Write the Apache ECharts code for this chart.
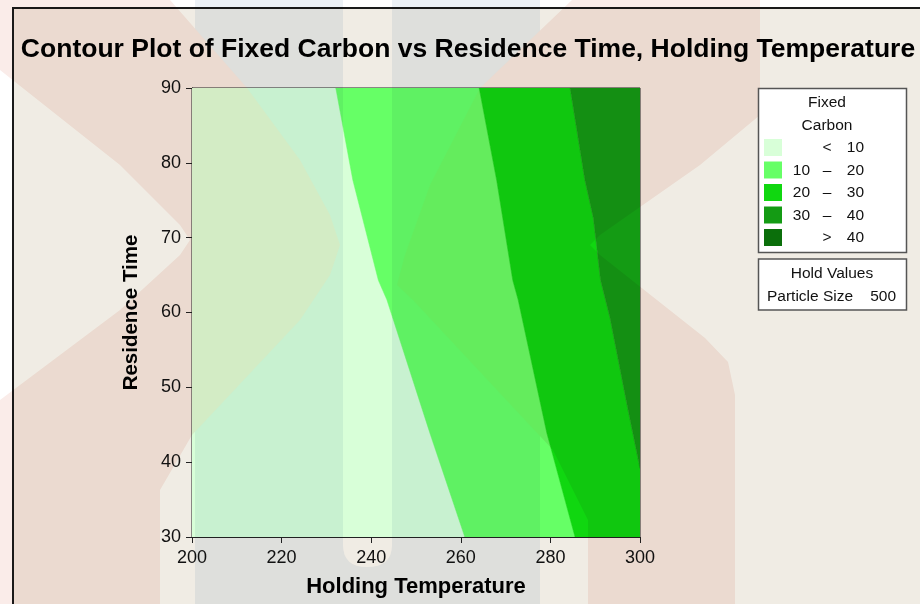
<!DOCTYPE html>
<html>
<head>
<meta charset="utf-8">
<script src="https://cdn.jsdelivr.net/npm/echarts@6/dist/echarts.min.js"></script>
<style>
  html, body { margin: 0; padding: 0; background: #ffffff; }
  #chart { width: 920px; height: 604px; }
</style>
</head>
<body>
<div id="chart"></div>
<script>
// Contour lines of Fixed Carbon: [Holding Temperature, Residence Time] from top to bottom
const contour10 = [[232.1, 90], [235.9, 77.7], [241.6, 64.3], [243.5, 61.7], [253.1, 43.9], [260.9, 30]];
const contour20 = [[264.1, 90], [268.0, 77.7], [271.6, 64.3], [272.8, 61.7], [279.2, 43.9], [285.5, 30]];
const contour30 = [[284.4, 90], [287.7, 77.7], [289.6, 72.6], [291.2, 64.3], [293.3, 59.3], [297.0, 48.0], [300, 39.2]];

// Axis ranges and ticks
const tempRange = [200, 300];
const tempStep = 20;
const timeRange = [30, 90];
const timeStep = 10;

// Legend classes
const levelLow = ['', '10', '20', '30', ''];
const levelSym = ['<', '\u2013', '\u2013', '\u2013', '>'];
const levelHigh = ['10', '20', '30', '40', '40'];
const levelColors = ['#d8ffd8', '#66ff66', '#10d710', '#149b14', '#0b6f0b'];

// Hold values
const holdName = 'Particle Size';
const holdValue = '500';

// Filled bands between successive contour lines
const [tMin, tMax] = tempRange;
const [yMin, yMax] = timeRange;
const bands = [
  [[tMin, yMin], [tMin, yMax]].concat(contour10),
  contour10.concat(contour20.slice().reverse()),
  contour20.concat([[tMax, yMin]], contour30.slice().reverse()),
  contour30.concat([[tMax, yMax]])
];

const FONT = "'Liberation Sans', Arial, sans-serif";

// Faint logo printed behind the slide (multiplied over everything)
function logoCanvas() {
  const c = document.createElement('canvas');
  c.width = 920; c.height = 604;
  const g = c.getContext('2d');
  const poly = (pts) => {
    g.beginPath();
    g.moveTo(pts[0][0], pts[0][1]);
    for (let i = 1; i < pts.length; i++) g.lineTo(pts[i][0], pts[i][1]);
    g.closePath();
    g.fill();
  };
  // vertical bar with a slot
  g.fillStyle = 'rgb(236,241,246)';
  g.fillRect(195, 0, 345, 604);
  g.fillStyle = '#ffffff';
  g.beginPath();
  g.moveTo(343, 0); g.lineTo(343, 545);
  g.quadraticCurveTo(343, 567, 367, 567);
  g.quadraticCurveTo(392, 567, 392, 545);
  g.lineTo(392, 0); g.closePath(); g.fill();
  // chevron strands
  g.fillStyle = 'rgb(250,236,233)';
  poly([[0, 0], [170, 0], [247, 88], [300, 160], [330, 215], [340, 245], [330, 275], [300, 320],
        [192, 435], [160, 490], [160, 604], [0, 604], [0, 400], [120, 310], [180, 255], [190, 240],
        [180, 225], [120, 165], [0, 70]]);
  poly([[572, 0], [480, 88], [430, 185], [405, 255], [397, 285], [413, 300], [553, 450], [588, 520],
        [588, 604], [735, 604], [735, 395], [728, 362], [705, 338], [600, 255], [590, 245], [600, 235],
        [700, 165], [760, 115], [760, 0]]);
  return c;
}

const chart = echarts.init(document.getElementById('chart'), null, { renderer: 'canvas' });

const legendRows = levelColors.map((col, i) => {
  const cy = 148 + i * 22.5;
  return [
    { type: 'rect', z: 120, shape: { x: 764, y: cy - 9, width: 18, height: 17 }, style: { fill: col } },
    { type: 'text', z: 120, style: { x: 810, y: cy, text: levelLow[i], align: 'right', verticalAlign: 'middle', font: '15.5px ' + FONT, fill: '#111' } },
    { type: 'text', z: 120, style: { x: 827, y: cy, text: levelSym[i], align: 'center', verticalAlign: 'middle', font: '15.5px ' + FONT, fill: '#111' } },
    { type: 'text', z: 120, style: { x: 864, y: cy, text: levelHigh[i], align: 'right', verticalAlign: 'middle', font: '15.5px ' + FONT, fill: '#111' } }
  ];
}).flat();

const option = {
  backgroundColor: '#ffffff',
  animation: false,
  title: {
    text: 'Contour Plot of Fixed Carbon vs Residence Time, Holding Temperature',
    left: 463, textAlign: 'center', top: 31,
    textStyle: { fontFamily: FONT, fontWeight: 'bold', fontSize: 26.5, color: '#000' }
  },
  grid: { left: 192, top: 88, width: 448, height: 449, show: true, borderColor: '#222', borderWidth: 1, backgroundColor: 'transparent' },
  xAxis: {
    type: 'value', min: tempRange[0], max: tempRange[1], interval: tempStep,
    name: 'Holding Temperature', nameLocation: 'middle', nameGap: 39,
    nameTextStyle: { fontFamily: FONT, fontWeight: 'bold', fontSize: 22, color: '#000' },
    axisLine: { lineStyle: { color: '#222', width: 1 } },
    axisTick: { show: true, length: 6, lineStyle: { color: '#222' } },
    axisLabel: { margin: 12, fontFamily: FONT, fontSize: 18, color: '#111' },
    splitLine: { show: false }
  },
  yAxis: {
    type: 'value', min: timeRange[0], max: timeRange[1], interval: timeStep,
    name: 'Residence Time', nameLocation: 'middle', nameGap: 50,
    nameTextStyle: { fontFamily: FONT, fontWeight: 'bold', fontSize: 20.5, color: '#000' },
    axisLine: { lineStyle: { color: '#222', width: 1 } },
    axisTick: { show: true, length: 6, lineStyle: { color: '#222' } },
    axisLabel: { margin: 11, fontFamily: FONT, fontSize: 18, color: '#111' },
    splitLine: { show: false }
  },
  graphic: [
    { type: 'rect', z: -10, silent: true, shape: { x: 13, y: 8, width: 920, height: 610 }, style: { fill: '#f0ece4', stroke: '#1a1a1a', lineWidth: 2 } },
    { type: 'image', z: 50, silent: true, style: { image: logoCanvas(), x: 0, y: 0, width: 920, height: 604, blend: 'multiply' } },
    { type: 'rect', z: 110, shape: { x: 758.5, y: 88.5, width: 148, height: 164 }, style: { fill: '#ffffff', stroke: '#555', lineWidth: 1.5 } },
    { type: 'text', z: 120, style: { x: 827, y: 103, text: 'Fixed', align: 'center', verticalAlign: 'middle', font: '15.5px ' + FONT, fill: '#111' } },
    { type: 'text', z: 120, style: { x: 827, y: 126, text: 'Carbon', align: 'center', verticalAlign: 'middle', font: '15.5px ' + FONT, fill: '#111' } },
    ...legendRows,
    { type: 'rect', z: 110, shape: { x: 758.5, y: 259, width: 148, height: 51 }, style: { fill: '#ffffff', stroke: '#555', lineWidth: 1.5 } },
    { type: 'text', z: 120, style: { x: 832, y: 274, text: 'Hold Values', align: 'center', verticalAlign: 'middle', font: '15.5px ' + FONT, fill: '#111' } },
    { type: 'text', z: 120, style: { x: 767, y: 297, text: holdName, align: 'left', verticalAlign: 'middle', font: '15.5px ' + FONT, fill: '#111' } },
    { type: 'text', z: 120, style: { x: 896, y: 297, text: holdValue, align: 'right', verticalAlign: 'middle', font: '15.5px ' + FONT, fill: '#111' } }
  ],
  series: [{
    type: 'custom',
    coordinateSystem: 'cartesian2d',
    clip: true,
    data: bands.map((b, i) => [i]),
    renderItem: function (params, api) {
      const i = api.value(0);
      const pts = bands[i].map(p => api.coord(p));
      return { type: 'polygon', shape: { points: pts }, style: { fill: levelColors[i], stroke: levelColors[i], lineWidth: 0.5 } };
    }
  }]
};

chart.setOption(option);
</script>
</body>
</html>
